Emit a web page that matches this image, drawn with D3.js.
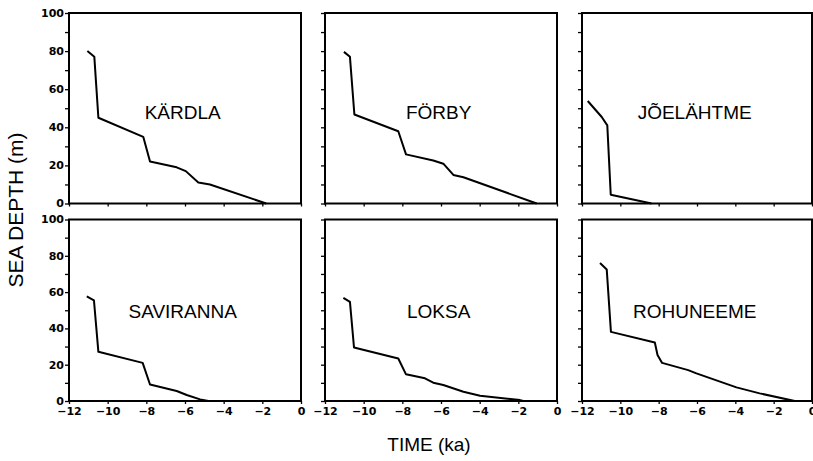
<!DOCTYPE html>
<html>
<head>
<meta charset="utf-8">
<script src="https://cdn.jsdelivr.net/npm/d3@7"></script>
<style>
  html, body { margin: 0; padding: 0; background: #fff; }
  svg { display: block; }
</style>
</head>
<body>
<svg id="chart" width="813" height="461"></svg>
<script>
// ---- data ----
const sites = ["KÄRDLA", "FÖRBY", "JÕELÄHTME", "SAVIRANNA", "LOKSA", "ROHUNEEME"];
const kardlaTime  = [-11.05, -10.69, -10.48, -8.16, -7.81, -6.43, -5.96, -5.31, -4.71, -1.8];
const kardlaDepth = [80, 77, 45, 35, 22, 19, 17, 11, 10, 0];
const forbyTime   = [-11.02, -10.71, -10.48, -8.21, -7.81, -6.40, -5.88, -5.36, -4.84, -1.05];
const forbyDepth  = [79.6, 77, 46.7, 37.9, 25.8, 22.6, 20.9, 15, 13.8, 0];
const joeTime     = [-11.7, -10.97, -10.68, -10.5, -8.37];
const joeDepth    = [53.8, 45.4, 41, 4.6, 0];
const saviTime    = [-11.08, -10.71, -10.48, -8.19, -7.81, -6.43, -5.91, -5.22, -4.79];
const saviDepth   = [57.7, 55.5, 27.1, 21, 9.1, 5.5, 3.3, 0.9, 0];
const loksaTime   = [-11.05, -10.71, -10.5, -8.21, -7.81, -6.83, -6.40, -5.88, -4.84, -3.98, -1.91, -1.74];
const loksaDepth  = [56.8, 54.6, 29.5, 23.4, 14.7, 12.5, 10.1, 8.8, 5.1, 2.9, 0.5, 0];
const rohuTime    = [-11.06, -10.71, -10.49, -8.2, -8.06, -7.82, -6.46, -6.03, -3.94, -2.73, -0.9];
const rohuDepth   = [76, 72.5, 38.1, 32.2, 25.3, 21, 17, 15.2, 7.5, 4.2, 0];
const seriesTime  = [kardlaTime, forbyTime, joeTime, saviTime, loksaTime, rohuTime];
const seriesDepth = [kardlaDepth, forbyDepth, joeDepth, saviDepth, loksaDepth, rohuDepth];
const yTickValues = [0, 20, 40, 60, 80, 100];
const xTickValues = [-12, -10, -8, -6, -4, -2, 0];
const xTitle = "TIME (ka)";
const yTitle = "SEA DEPTH (m)";

// ---- layout ----
const svg = d3.select("#chart");
const colLeft = [69, 325, 582];
const colWidth = [232, 232, 230];
const rowTop = [13, 219.5];
const rowBottom = [203.5, 401];
const fmt = d => (d < 0 ? "\u2212" + Math.abs(d) : String(d));

sites.forEach((name, i) => {
  const col = i % 3, row = Math.floor(i / 3);
  const x = d3.scaleLinear().domain([-12, 0]).range([colLeft[col], colLeft[col] + colWidth[col]]);
  const y = d3.scaleLinear().domain([0, 100]).range([rowBottom[row], rowTop[row]]);
  const g = svg.append("g");

  // y axis (ticks every 10, labels on first column)
  const yAxis = d3.axisLeft(y).tickValues(d3.range(0, 101, 10)).tickSize(4)
    .tickFormat(d => (col === 0 && yTickValues.includes(d)) ? fmt(d) : "");
  const ya = g.append("g").attr("transform", `translate(${colLeft[col]},0)`).call(yAxis);
  ya.select(".domain").remove();
  ya.selectAll("line").attr("stroke", "#000").attr("stroke-width", 1.3);
  ya.selectAll("text").attr("font-family", "DejaVu Sans, sans-serif").attr("font-weight", "bold")
    .attr("font-size", 11).attr("fill", "#000").attr("x", -5).attr("dy", "0.3em");

  // x axis
  const xAxis = d3.axisBottom(x).tickValues(xTickValues).tickSize(3)
    .tickFormat(d => row === 1 ? fmt(d) : "");
  const xa = g.append("g").attr("transform", `translate(0,${rowBottom[row]})`).call(xAxis);
  xa.select(".domain").remove();
  xa.selectAll("line").attr("stroke", "#000").attr("stroke-width", 1.3);
  xa.selectAll("text").attr("font-family", "DejaVu Sans, sans-serif").attr("font-weight", "bold")
    .attr("font-size", 11).attr("fill", "#000").attr("y", 6);

  // frame
  g.append("rect")
    .attr("x", x(-12)).attr("y", y(100))
    .attr("width", x(0) - x(-12)).attr("height", y(0) - y(100))
    .attr("fill", "none").attr("stroke", "#000").attr("stroke-width", 2);

  // line
  const pts = seriesTime[i].map((t, k) => [t, seriesDepth[i][k]]);
  g.append("path")
    .datum(pts)
    .attr("d", d3.line().x(d => x(d[0])).y(d => y(d[1])))
    .attr("fill", "none").attr("stroke", "#000").attr("stroke-width", 2)
    .attr("stroke-linejoin", "round");

  // site name
  g.append("text")
    .attr("x", x(-12) + (x(0) - x(-12)) * 0.49)
    .attr("y", y(100) + (y(0) - y(100)) * (row === 0 ? 0.555 : 0.545))
    .attr("text-anchor", "middle")
    .attr("font-family", "Liberation Sans, Arial, sans-serif")
    .attr("font-size", 19).attr("fill", "#000")
    .text(name);
});

// axis titles
svg.append("text")
  .attr("x", 429).attr("y", 451)
  .attr("text-anchor", "middle")
  .attr("font-family", "Liberation Sans, Arial, sans-serif")
  .attr("font-size", 19).attr("fill", "#000")
  .text(xTitle);

svg.append("text")
  .attr("transform", "translate(23,210) rotate(-90)")
  .attr("text-anchor", "middle")
  .attr("font-family", "Liberation Sans, Arial, sans-serif")
  .attr("font-size", 21).attr("fill", "#000")
  .text(yTitle);
</script>
</body>
</html>
